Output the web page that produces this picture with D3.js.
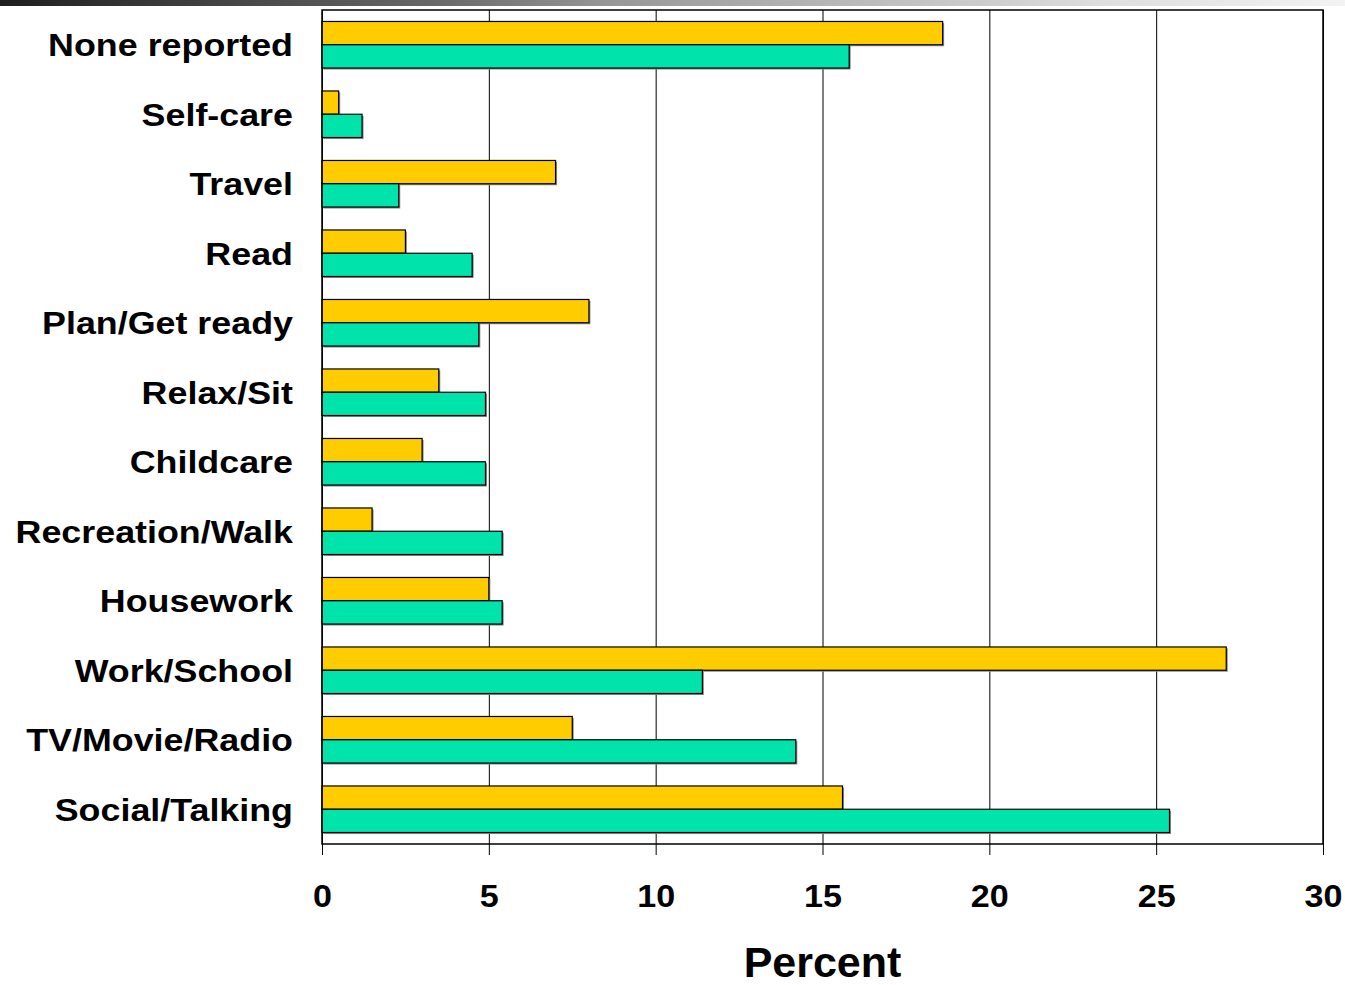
<!DOCTYPE html>
<html>
<head>
<meta charset="utf-8">
<script src="https://cdn.jsdelivr.net/npm/d3@7"></script>
<style>
  html, body { margin: 0; padding: 0; background: #fff; }
  svg { display: block; }
  text { font-family: "Liberation Sans", Arial, sans-serif; font-weight: bold; fill: #000; }
</style>
</head>
<body>
<script>
const categories = ["None reported","Self-care","Travel","Read","Plan/Get ready","Relax/Sit","Childcare","Recreation/Walk","Housework","Work/School","TV/Movie/Radio","Social/Talking"];
const seriesNames = ["Series A","Series B"];
const seriesA = [18.6, 0.5, 7.0, 2.5, 8.0, 3.5, 3.0, 1.5, 5.0, 27.1, 7.5, 15.6];
const seriesB = [15.8, 1.2, 2.3, 4.5, 4.7, 4.9, 4.9, 5.4, 5.4, 11.4, 14.2, 25.4];
const xTicks = [0, 5, 10, 15, 20, 25, 30];
const xTitle = "Percent";

const W = 1345, H = 985;
const margin = {left: 322, right: 22, top: 10, bottom: 141};
const colors = ["#FFCC00", "#00E3AA"];

const svg = d3.select("body").append("svg").attr("width", W).attr("height", H);

// decorative top gradient band
const defs = svg.append("defs");
const grad = defs.append("linearGradient").attr("id", "topgrad").attr("x1", "0").attr("x2", "1").attr("y1", "0").attr("y2", "0");
[[0, "#1e1e1e"], [0.33, "#6a6a6a"], [0.45, "#969696"], [0.82, "#dedede"], [1, "#f3f3f3"]]
  .forEach(([o, c]) => grad.append("stop").attr("offset", o).attr("stop-color", c));
svg.append("rect").attr("x", 0).attr("y", 0).attr("width", W).attr("height", 6).attr("fill", "url(#topgrad)");

const x = d3.scaleLinear().domain([0, 30]).range([margin.left, W - margin.right]);
const y = d3.scaleBand().domain(categories).range([margin.top, H - margin.bottom]).paddingInner(0.33).paddingOuter(0.165);
const ySub = d3.scaleBand().domain(seriesNames).range([0, y.bandwidth()]);

const x0 = x(0), x1 = x(30), yTop = margin.top, yBot = H - margin.bottom;

// gridlines
const xAxis = d3.axisBottom(x).tickValues(xTicks).tickSize(-(yBot - yTop)).tickFormat("");
const gAxis = svg.append("g").attr("transform", `translate(0,${yBot})`).call(xAxis);
gAxis.select(".domain").remove();
gAxis.selectAll(".tick line").attr("stroke", "#000").attr("stroke-width", 1);
// downward tick marks + labels
const xAxisTicks = d3.axisBottom(x).tickValues(xTicks).tickSize(11).tickFormat(d => d);
const gT = svg.append("g").attr("transform", `translate(0,${yBot})`).call(xAxisTicks);
gT.select(".domain").remove();
gT.selectAll(".tick line").attr("stroke", "#000").attr("stroke-width", 1);
gT.selectAll(".tick text")
  .attr("y", 0).attr("dy", 0)
  .attr("transform", "translate(0,63) scale(1.1,1)")
  .style("font-size", "31px").style("font-family", '"Liberation Sans", Arial, sans-serif')
  .style("font-weight", "bold").attr("fill", "#000");

// bars
const rows = categories.map((c, i) => ({cat: c, vals: [seriesA[i], seriesB[i]]}));
const gRow = svg.append("g").selectAll("g").data(rows).join("g")
  .attr("transform", d => `translate(0,${y(d.cat)})`);
gRow.selectAll("rect.sh").data(d => d.vals.map((v, j) => ({v, s: seriesNames[j], j}))).join("rect")
  .attr("class", "sh")
  .attr("x", x0 + 1.5).attr("y", d => ySub(d.s) + 1.5)
  .attr("width", d => x(d.v) - x0).attr("height", ySub.bandwidth())
  .attr("fill", "#8a8a8a");
gRow.selectAll("rect.bar").data(d => d.vals.map((v, j) => ({v, s: seriesNames[j], j}))).join("rect")
  .attr("class", "bar")
  .attr("x", x0).attr("y", d => ySub(d.s))
  .attr("width", d => x(d.v) - x0).attr("height", ySub.bandwidth())
  .attr("fill", d => colors[d.j]).attr("stroke", "#000").attr("stroke-width", 1.2);

// frame
svg.append("rect").attr("x", x0).attr("y", yTop).attr("width", x1 - x0).attr("height", yBot - yTop)
  .attr("fill", "none").attr("stroke", "#000").attr("stroke-width", 1.5);

// category labels
svg.append("g").selectAll("text").data(categories).join("text")
  .attr("transform", d => `translate(293,${y(d) + y.bandwidth() / 2 + 11.5}) scale(1.12,1)`)
  .attr("text-anchor", "end")
  .style("font-size", "32px")
  .text(d => d);

// x title
svg.append("text").attr("x", (x0 + x1) / 2).attr("y", 977).attr("text-anchor", "middle")
  .style("font-size", "43px").text(xTitle);
</script>
</body>
</html>
